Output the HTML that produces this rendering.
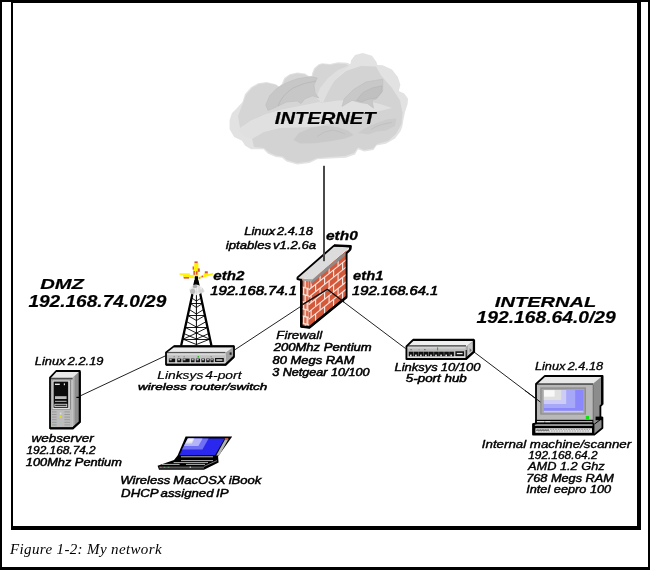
<!DOCTYPE html>
<html><head><meta charset="utf-8"><title>Figure 1-2: My network</title>
<style>
html,body{margin:0;padding:0;background:#fff;}
body{width:650px;height:570px;overflow:hidden;position:relative;font-family:"Liberation Serif",serif;}
#outer{position:absolute;left:0;top:0;width:646px;height:565px;border:2px solid #000;border-bottom-width:3px;}
#fig{position:absolute;left:0;top:0;width:650px;height:570px;}
text{font-family:"Liberation Sans", sans-serif;font-style:italic;fill:#000;stroke:#000;}
</style></head>
<body>
<div id="outer"></div>
<svg id="fig" width="650" height="570" viewBox="0 0 650 570">
<defs>
<filter id="bl" color-interpolation-filters="sRGB" x="-5%" y="-5%" width="110%" height="110%"><feGaussianBlur stdDeviation="0.45"/></filter>
<filter id="bl2" color-interpolation-filters="sRGB" x="-5%" y="-5%" width="110%" height="110%"><feGaussianBlur stdDeviation="0.7"/></filter>
<filter id="noop" color-interpolation-filters="sRGB" x="-5%" y="-50%" width="110%" height="200%"><feGaussianBlur stdDeviation="0.01"/></filter>
</defs>
<!-- inner frame -->
<g id="frame" fill="#000">
<rect x="11" y="1" width="630" height="2"/>
<rect x="11" y="1" width="2" height="529"/>
<rect x="637" y="1" width="4" height="529"/>
<rect x="11" y="526" width="630" height="4"/>
</g>
<!-- cloud -->
<g id="cloud" filter="url(#bl)">
<path fill="#e2e2e2" d="M232,113 L237,108 L242.5,102 L245,94 L251,87.3 L258,83.2 L266.5,82 L275.8,84.2 L279,86.5 L282,83.5 L284.2,78 L289.6,74.2 L297.3,72.4 L305,73.5 L309.6,76.5 L311.5,78 L312,73.5 L314.2,68 L318.8,64.2 L322,63.2 L330,64 L338,62.2 L347.3,62.7 L350.4,64.2 L351,60.4 L355,55 L362.7,53 L372,55.8 L376.5,62 L377.3,65 L382.7,65.3 L392,69.6 L398,77.3 L400.4,85 L398.8,91 L404.2,93.5 L408,98.8 L407.6,104 L405,112 L403.4,120 L402.2,127 L400.4,131.5 L395,138.5 L385.8,143.8 L376.5,145.4 L373.5,150 L364.2,151.5 L358,149.2 L355,154.6 L345.8,157.7 L330.4,158.5 L317.3,159.2 L309.6,163 L297.3,164.6 L286.5,161.5 L282,157.7 L275.8,157 L268,153.8 L263.5,149.2 L251,149.2 L245,145.4 L242,140.8 L234.2,137 L229.6,129.2 L229.6,120 Z"/>
<!-- upper-left blob -->
<path fill="#d5d5d5" d="M238,116 L243,103 L246,95 L252,88 L259,84 L267,83 L276,85 L280,88 L283,84 L285,79 L290,75 L297,73.5 L305,74.5 L310,78 L312,80 L313,74 L315,69 L319,65 L323,64 L330,65 L338,63.5 L346,64 L349,66 L338,72 L330,80 L324,92 L320,102 L300,106 L280,110 L262,116 L248,123 L240,128 Z"/>
<!-- dome -->
<path fill="#d3d3d3" d="M320,104 L326,92 L334,81 L346,71 L361,66 L376,66.5 L381,75.5 L392,88 L400,100.5 L402.5,113 L401.5,124 L396,134 L388,141 L377,144 L373,148.5 L364,150 L358,147.5 L354,153 L345,156 L330,157 L317,158 L309,161.5 L297,163 L287,160 L283,156.5 L276,155.5 L269,152.5 L264,148 L254,147 L252,138 L262,129 L278,122 L296,117 L316,113 L336,109 L352,104 L340,101 Z"/>
<!-- light band across middle -->
<path fill="#e0e0e0" d="M238,130 L250,121 L266,114 L284,109.5 L302,106 L320,103 L338,100.5 L354,100 L368,101 L380,104 L392,108 L380,111 L362,113.5 L345,118 L330,123.5 L316,126.5 L298,127.5 L280,128 L264,132 L252,139 L244,136 Z"/>
<!-- light swoosh top -->
<path fill="#dfdfdf" d="M316,98 L320,88 L328,78 L338,70 L350,65 L340,74 L333,83 L327,94 L323,103 Z"/>
<!-- wing 1 -->
<path fill="#c7c7c7" stroke="#bdbdbd" stroke-width="0.6" d="M265.8,105 L269.6,95.8 L277.3,88 L286.5,82.7 L297.3,78.8 L311,76.5 L317.3,78 L314,85 L315,92.7 L318.8,98 L312.7,95.8 L305,98.8 L301,103.5 L297.3,101 L286.5,102 L277.3,106.5 L268,110.5 Z"/>
<path fill="none" stroke="#b6b6b6" stroke-width="0.8" d="M278,106 Q282,95 293,88 Q304,82.5 316,81"/>
<!-- wing 2 -->
<path fill="#c8c8c8" stroke="#bebebe" stroke-width="0.6" d="M342,106.5 L344.2,98.8 L353.5,89.6 L365.8,82 L382.7,79.2 L382.7,91.2 L376.5,98.8 L372,100.4 L373.5,108 L367.3,103.5 L361,102.7 L352,100.4 L346,104 Z"/>
<path fill="#c0c0c0" stroke="#b4b4b4" stroke-width="0.6" d="M356.5,100.4 L362.7,92.7 L372,88 L382,85.8 L381,92.7 L376.5,98 L369,99 L362,101.6 Z"/>
<!-- wing 3 -->
<path fill="#c9c9c9" d="M293.5,140 L298.8,133 L311,127.7 L325,125.8 L338,127.2 L348,130.5 L353.5,135 L346,138.2 L332,141 L315,143.2 L300,143.4 Z"/>
<path fill="none" stroke="#bcbcbc" stroke-width="0.7" d="M317,136.5 Q324,131 333,130 Q340,131.5 345,134"/>
<!-- wing 4 -->
<path fill="#cbcbcb" d="M358,133 L365.8,127.7 L376.5,123 L387.3,119.2 L396.5,118.5 L395,126 L385.8,130.8 L376.5,131.5 L368.8,134.6 Z"/>
<path fill="none" stroke="#bcbcbc" stroke-width="0.7" d="M371,129.5 Q379,124 392,122.5"/>
</g>
<!-- connection lines -->
<g id="lines" stroke="#222" stroke-width="1" fill="none">
<rect x="323" y="165.8" width="2" height="95.4" fill="#4a4a4a" stroke="none"/>
<polyline points="80,396 165.5,355.8"/>
<polyline points="234.5,350 326.8,289.3 405.5,348.5"/>
<polyline points="473,351.2 540,401.8"/>
</g>
<!-- firewall -->
<g id="firewall" filter="url(#bl)">
<clipPath id="fwclip"><polygon points="300.6,278 312,279 346.8,250 346.8,296.8 309.3,327.2 300.6,326.4"/></clipPath>
<g clip-path="url(#fwclip)">
<polygon points="308.6,280 346.8,250 346.8,297 308.6,328" fill="#d4583a"/>
<polygon points="300.6,278 308.6,279.5 308.6,328 300.6,327" fill="#de6c4e"/>
<g stroke="#f6e4de" stroke-width="1.15" fill="none">
<path d="M308.6,290.0 L346.4,259.6 M308.6,297.3 L346.4,266.9 M308.6,304.7 L346.4,274.3 M308.6,312.1 L346.4,281.7 M308.6,319.4 L346.4,289.0"/>
<path d="M311.1,280.6 v7.4 M320.1,273.4 v7.4 M329.1,266.1 v7.4 M338.1,258.9 v7.4 M315.6,284.3 v7.4 M324.6,277.1 v7.4 M333.6,269.9 v7.4 M342.6,262.6 v7.4 M311.1,295.3 v7.4 M320.1,288.1 v7.4 M329.1,280.8 v7.4 M338.1,273.6 v7.4 M315.6,299.1 v7.4 M324.6,291.8 v7.4 M333.6,284.6 v7.4 M342.6,277.4 v7.4 M311.1,310.1 v7.4 M320.1,302.8 v7.4 M329.1,295.6 v7.4 M338.1,288.3 v7.4 M315.6,313.8 v7.4 M324.6,306.6 v7.4 M333.6,299.3 v7.4 M342.6,292.1 v7.4"/>
<path d="M301.5,286.8 L308.6,288.6 M301.5,294.0 L308.6,295.8 M301.5,301.3 L308.6,303.1 M301.5,308.5 L308.6,310.3 M301.5,315.7 L308.6,317.5 M301.5,322.9 L308.6,324.7 M305.2,280.0 v7.4 M303.6,287.2 v7.4 M307.2,287.7 v7.4 M305.2,294.4 v7.4 M303.6,301.7 v7.4 M307.2,302.2 v7.4 M305.2,308.9 v7.4 M303.6,316.1 v7.4 M307.2,316.6 v7.4 M305.2,323.3 v7.4" stroke-width="1.3"/>
</g>
</g>
<polygon points="311,280.6 349.5,248.6 349.5,252 311,284" fill="#8c8c8c"/>
<polygon points="299,278.6 312.4,279.6 311.6,281.6 301,280.4" fill="#a4a4a4"/>
<polygon points="297.6,277.8 334,245.6 350.5,246.4 312.5,279.6" fill="#dcdcdc"/>
<g stroke="#000" fill="none" stroke-linejoin="round">
<path d="M301.2,280 L297.4,279 L297.6,277.4 L334,245.6 L350.5,246.4 L350,250 L346.6,253 L346.6,297 L309.3,327.4 L301.2,326.5 Z" stroke-width="1.9"/>
<path d="M301.3,280.5 L301.3,326.5 L309.3,327.5 L346.6,297" stroke-width="2.5"/>
<path d="M334,245.4 L350.6,246.2 L350.2,249.6" stroke-width="2.4"/>
</g>
</g>
<!-- lines over firewall -->
<g stroke="#111" fill="none">
<rect x="323" y="240" width="2" height="21.2" fill="#4a4a4a" stroke="none"/>
<polyline points="302.5,304.6 327.3,289.3 344,302" stroke-width="1.4"/>
</g>
<!-- tower -->
<g id="tower" filter="url(#bl)">
<ellipse cx="196.5" cy="290" rx="7" ry="4" fill="#bdbdbd" opacity="0.75"/>
<g stroke="#000" fill="none" stroke-linecap="round">
<path d="M195.3,281 L181.3,345 M197.5,281 L211.3,345" stroke-width="2.3"/>
<path d="M196.4,278 L196.4,345" stroke-width="1"/>
<path d="M196.4,277 L196.4,284" stroke-width="3.4"/>
<g stroke-width="0.9">
<path d="M191.6,298 L196.4,301 L201.2,298 M190.4,303.5 L196.4,307.5 L202.4,303.5 M189.2,309.5 L196.4,314 L203.6,309.5 M187.8,315.5 L196.4,320.5 L205,315.5 M186.4,321.5 L196.4,327 L206.4,321.5 M185.2,327.5 L196.4,333 L207.6,327.5 M183.8,333.5 L196.4,339 L209,333.5 M182.6,339 L196.4,344.5 L210.2,339"/>
<path d="M190.4,303.5 H202.4 M187.8,315.5 H205 M185.2,327.5 H207.6 M182.6,339.5 H210.2 M193,292 H200"/>
<path d="M182.6,339.5 L196.4,333 L210.2,339.5"/>
</g>
</g>
<!-- spark -->
<g fill="#fff200">
<rect x="194.2" y="262.8" width="4.2" height="13.4"/>
<rect x="193" y="267" width="2" height="4"/>
<rect x="179.6" y="273.3" width="10.2" height="1.6"/>
<rect x="183" y="274.9" width="10.8" height="3.2"/>
<polygon points="198.6,277 205,275 213,272.9 213,274.4 206,276.8 198.6,279"/>
<rect x="203.6" y="273.4" width="4.4" height="2"/>
</g>
<g fill="#d8503c">
<rect x="194.5" y="261.4" width="3.2" height="1.7"/>
<rect x="192.6" y="266.4" width="1.3" height="3.2"/>
<rect x="197.8" y="268.4" width="2" height="3.4"/>
<rect x="193.4" y="271" width="1.5" height="3.8"/>
<rect x="196" y="271.2" width="1.5" height="3.4"/>
<rect x="183.8" y="277.1" width="5.2" height="1.5"/>
<rect x="204.8" y="271.3" width="3" height="2.1"/>
<rect x="201.6" y="275.6" width="1.5" height="1.6"/>
<rect x="199.2" y="277.4" width="1" height="1.2"/>
</g>
</g>
<!-- router (Linksys 4-port) -->
<g id="router" filter="url(#bl)">
<polygon points="166,352.4 173.8,346.4 234,346.4 225.6,352.4" fill="#ececec"/>
<polygon points="225.6,352.4 234,346.4 234,356.6 225.6,364.6" fill="#a2a2a2"/>
<rect x="166" y="352.4" width="59.6" height="12.2" fill="#c2c2c2"/>
<rect x="166.8" y="351.9" width="58.6" height="1.3" fill="#555"/>
<rect x="167" y="353.4" width="58" height="1.8" fill="#d8d8d8"/>
<rect x="167.4" y="362.4" width="57.6" height="1.2" fill="#e6e6e6"/>
<g fill="#101010"><rect x="168.9" y="358.6" width="6.2" height="3.6"/><rect x="177.2" y="358.6" width="4.1" height="3.6"/><rect x="182.7" y="358.6" width="6.9" height="3.6"/><rect x="191" y="358.6" width="3.5" height="3.6"/><rect x="195.9" y="358.6" width="4.1" height="3.6"/><rect x="201.4" y="358.6" width="3.5" height="3.6"/><rect x="206.2" y="358.6" width="3.5" height="3.6"/><rect x="210.6" y="358.6" width="3.0" height="3.6"/><rect x="215" y="358" width="8.8" height="4"/></g>
<g fill="#dedede"><rect x="169.5" y="359.2" width="2.2" height="1.1"/><rect x="177.8" y="359.2" width="2.2" height="1.1"/><rect x="183.3" y="359.2" width="2.2" height="1.1"/><rect x="191.6" y="359.2" width="2.1" height="1.1"/><rect x="196.5" y="359.2" width="2.2" height="1.1"/><rect x="202.0" y="359.2" width="2.1" height="1.1"/><rect x="206.8" y="359.2" width="2.1" height="1.1"/><rect x="211.2" y="359.2" width="1.6" height="1.1"/><rect x="216.2" y="359.3" width="6.2" height="1.4"/></g>
<rect x="197.6" y="356" width="1.4" height="1.6" fill="#30b030"/>
<g fill="#888"><rect x="173.5" y="356.2" width="1.4" height="1"/><rect x="178" y="356.2" width="1.4" height="1"/><rect x="183.5" y="356.2" width="1.4" height="1"/><rect x="210.5" y="356.2" width="1.4" height="1"/></g>
<rect x="229.6" y="352.4" width="2" height="2.4" fill="#222"/>
<g stroke="#000" fill="none" stroke-linejoin="round">
<path d="M166,352.4 L173.8,346.4 L234,346.4 L234,356.6 L225.6,364.6 L166,364.6 Z" stroke-width="1.8"/>
<path d="M166,364.7 H225.6 L234,356.8 M173.8,346.3 H234.2" stroke-width="2.1"/>
</g>
</g>
<!-- hub (Linksys 10/100) -->
<g id="hub" filter="url(#bl)">
<polygon points="406.4,346.4 413,340 474,340 466,346.4" fill="#f0f0f0"/>
<polygon points="466,346.4 474,340 474,351.6 466,359" fill="#a6a6a6"/>
<rect x="406.4" y="346.4" width="59.6" height="12.4" fill="#bcbcbc"/>
<rect x="407" y="345.2" width="59" height="1.3" fill="#444"/>
<rect x="407.4" y="347" width="58" height="1.5" fill="#d4d4d4"/>
<rect x="407.4" y="356.4" width="58" height="1.3" fill="#ececec"/>
<g fill="#101010"><rect x="408.8" y="351.7" width="4.7" height="4.6"/><rect x="413.9" y="351.7" width="4.7" height="4.6"/><rect x="418.9" y="351.7" width="4.7" height="4.6"/><rect x="423.9" y="351.7" width="4.7" height="4.6"/><rect x="429.0" y="351.7" width="4.7" height="4.6"/><rect x="434.1" y="351.7" width="4.7" height="4.6"/><rect x="439.1" y="351.7" width="4.7" height="4.6"/><rect x="444.2" y="351.7" width="4.7" height="4.6"/><rect x="449.2" y="351.7" width="4.7" height="4.6"/><rect x="455.4" y="351.3" width="8.6" height="4.8"/></g>
<g fill="#e8e8e8"><rect x="410.0" y="354.6" width="1.6" height="1.8"/><rect x="415.1" y="354.6" width="1.6" height="1.8"/><rect x="420.1" y="354.6" width="1.6" height="1.8"/><rect x="425.1" y="354.6" width="1.6" height="1.8"/><rect x="430.2" y="354.6" width="1.6" height="1.8"/><rect x="435.2" y="354.6" width="1.6" height="1.8"/><rect x="440.3" y="354.6" width="1.6" height="1.8"/><rect x="445.4" y="354.6" width="1.6" height="1.8"/><rect x="450.4" y="354.6" width="1.6" height="1.8"/><rect x="456.8" y="352.9" width="5.8" height="1.3"/></g>
<rect x="437" y="347.4" width="1.1" height="3" fill="#38a838"/>
<g fill="#777"><rect x="410.4" y="349" width="1.4" height="1.2"/><rect x="424" y="349" width="1.6" height="1.2"/><rect x="418.6" y="349" width="1" height="1.2" fill="#999"/></g>
<polygon points="468,345.4 472.4,342.4 472.4,351.4 468,355.6" fill="#c8c8c8"/>
<polygon points="469.6,348 471.8,350.2 469.6,352.6" fill="#707070"/>
<g stroke="#000" fill="none" stroke-linejoin="round">
<path d="M406.4,346.4 L413,340 L474,340 L474,351.6 L466,359 L406.4,359 Z" stroke-width="1.8"/>
<path d="M406.4,359 H466 L474,351.8 V340 M413,339.9 H474" stroke-width="2.2"/>
<path d="M466.2,350 V359" stroke-width="1"/>
</g>
</g>
<!-- tower haze -->
<g filter="url(#bl2)"><ellipse cx="196" cy="289.8" rx="6.4" ry="5.4" fill="#f0f0f0" opacity="0.92"/><ellipse cx="192.6" cy="291.4" rx="2.6" ry="2.6" fill="#b0b0b0" opacity="0.8"/><ellipse cx="201.4" cy="291" rx="3" ry="1.8" fill="#d4d4d4" opacity="0.8"/><ellipse cx="195" cy="286.4" rx="2.2" ry="1.6" fill="#909090" opacity="0.7"/></g>
<!-- webserver tower PC -->
<g id="server" filter="url(#bl)">
<polygon points="50,377.6 56.2,371 79.8,371 72.8,377.6" fill="#e8e8e8"/>
<polygon points="72.8,377.6 79.8,371 79.8,421.8 72.8,428" fill="#8e8e8e"/>
<polygon points="72.8,377.6 74.6,376 74.6,426.4 72.8,428" fill="#b0b0b0"/>
<rect x="50" y="377.6" width="22.8" height="50.4" fill="#bcbcbc"/>
<rect x="50.6" y="377.8" width="22" height="1.6" fill="#4a4a4a"/>
<rect x="51.6" y="379.6" width="19.4" height="30" fill="#8a8a8a"/>
<rect x="52.4" y="380.4" width="17.4" height="28.6" fill="#e0e0e0"/>
<rect x="53.6" y="381.6" width="14.6" height="26.2" fill="#0c0c0c"/>
<rect x="55" y="383.6" width="4.8" height="1.4" fill="#e8e8e8"/>
<rect x="63.8" y="383.4" width="1.2" height="1.8" fill="#e8e8e8"/>
<rect x="55" y="396.2" width="11.6" height="2.8" fill="#bcbcbc"/>
<rect x="55" y="400.8" width="11.6" height="1.2" fill="#9a9a9a"/>
<rect x="54.4" y="403.8" width="12.8" height="3.2" fill="#cfcfcf"/>
<rect x="55.2" y="404.7" width="11.2" height="1.4" fill="#333"/>
<g fill="#9a9a9a">
<rect x="52" y="411.4" width="4.6" height="1"/><rect x="52" y="414" width="4.6" height="1"/><rect x="52" y="416.6" width="4.6" height="1"/><rect x="52" y="419.2" width="4.6" height="1"/><rect x="52" y="421.8" width="4.6" height="1"/><rect x="52" y="424.4" width="4.6" height="1"/>
<rect x="64.4" y="411.4" width="5.6" height="1"/><rect x="64.4" y="414" width="5.6" height="1"/><rect x="64.4" y="416.6" width="5.6" height="1"/><rect x="64.4" y="419.2" width="5.6" height="1"/><rect x="64.4" y="421.8" width="5.6" height="1"/><rect x="64.4" y="424.4" width="5.6" height="1"/>
</g>
<rect x="59.8" y="412.6" width="1.6" height="1.8" fill="#e0e0e0"/>
<rect x="59.6" y="415.8" width="1.8" height="1.8" fill="#e6e020"/>
<g stroke="#000" fill="none" stroke-linejoin="round">
<path d="M50,377.6 L56.2,371 L79.8,371 L79.8,421.8 L72.8,428.2 L50,428.2 Z" stroke-width="1.8"/>
<path d="M50,428.4 H72.8 L79.8,422 V371.4 M56.2,370.9 H79.8" stroke-width="2"/>
<path d="M76.4,397.4 H80.5" stroke-width="1.2"/>
</g>
</g>
<!-- laptop -->
<g id="laptop" filter="url(#bl)">
<polygon points="185.6,436.6 232.2,436.6 218,456.4 177.6,455.6" fill="#000"/>
<polygon points="157.6,465.8 174,460 178,455 218,456 218.6,462.4 204,469.8 159,469.8" fill="#000"/>
<polygon points="187.8,438.6 224.6,438.6 215.2,455 179.4,455" fill="#2a28ee"/>
<polygon points="187.8,438.6 208.6,438.6 202.4,449.6 182,449.6" fill="#7070f4"/>
<polygon points="187.8,438.6 202.6,438.6 198.4,446 184,446" fill="#b4b4f8"/>
<polygon points="187.8,438.6 194.4,438.6 191.8,443.4 185.4,443.4" fill="#e4e4f0"/>
<polygon points="188.6,438.8 193,438.8 192,441.4 187.4,441.4" fill="#f6f6f6"/>
<polygon points="225.4,438.8 228.6,438.8 219.2,455.4 216.2,455.4" fill="#b4b4b4"/>
<rect x="224.8" y="438.2" width="3.4" height="1.8" fill="#e05a3a"/>
<g stroke="#b4b4b4" stroke-width="1" fill="none">
<path d="M181,456.8 H213 M181,460.6 H213 M173.6,462.6 H208 M162,464.4 H179.6 M186,464.4 H205"/>
</g>
<polygon points="159,466.4 204,466.4 204,468.6 159.4,468.6" fill="#555"/>
<rect x="163.6" y="466.8" width="1.8" height="1.2" fill="#20c020"/>
<rect x="167.6" y="466.8" width="1.8" height="1.2" fill="#20c020"/>
<rect x="160.2" y="466.8" width="1.2" height="1.2" fill="#e05a3a"/>
<rect x="189.6" y="466.6" width="1.4" height="1.2" fill="#ccc"/>
<path d="M204,466.4 L217,460.6" stroke="#777" stroke-width="1" fill="none"/>
</g>
<!-- internal workstation -->
<g id="monitor" filter="url(#bl)">
<polygon points="536,384 544.6,376.2 602,376.2 593,384" fill="#e8e8e8"/>
<polygon points="592.6,384 602,376.2 602,404.6 600,406 600,417.6 602.4,417.6 602.4,428 594.4,434.4 592.6,434" fill="#8c8c8c"/>
<rect x="536" y="384" width="57" height="37" fill="#b8b8b8"/>
<rect x="540.2" y="387.4" width="45.8" height="27.2" fill="#8e8e8e"/>
<rect x="541.6" y="388.8" width="43" height="24.6" fill="#a8a8a8"/>
<rect x="543.8" y="390" width="39.6" height="22.2" fill="#8a88fa"/>
<rect x="543.8" y="390" width="31.4" height="18" fill="#a8a8f8"/>
<rect x="543.8" y="390" width="22.4" height="14" fill="#ccccf6"/>
<rect x="543.8" y="390" width="17.4" height="10" fill="#e0e0e0"/>
<rect x="544" y="390.2" width="10.6" height="6.4" fill="#f8f8f8"/>
<rect x="543.8" y="410.8" width="39.6" height="1.6" fill="#dcdcdc" opacity="0.8"/>
<rect x="585.8" y="416" width="3.2" height="3.1" fill="#10e010"/>
<rect x="535.4" y="419.8" width="58" height="4.4" fill="#000"/>
<rect x="536.4" y="421" width="56" height="1.3" fill="#b0b0b0"/>
<rect x="536.6" y="421" width="7.4" height="1.2" fill="#e0e0e0"/><rect x="545.4" y="421" width="4.8" height="1.2" fill="#e0e0e0"/>
<polygon points="533,423.2 594.4,423.2 594.4,434.4 533,434.4" fill="#000"/>
<rect x="534.8" y="424.2" width="57.8" height="1.7" fill="#a8a8a8"/>
<rect x="535.4" y="428.2" width="56.6" height="4.6" fill="#e4e4e4"/>
<g stroke="#8a8a8a" stroke-width="0.8"><path d="M537,429.4 H590 M538,431 H590" stroke-dasharray="1.6 1"/><path d="M536,430.2 H549" stroke="#555" stroke-width="1"/></g>
<g stroke="#000" fill="none" stroke-linejoin="round">
<path d="M536,384 L544.6,376.2 L602,376.2 L602,404.6 L600.4,406 L600.4,417.6 L602.4,417.6 L602.4,428 L594.4,434.6 L533,434.6 L533,424.2 L536,423.4 Z" stroke-width="1.8"/>
<path d="M536,384 H593" stroke-width="1.2"/>
<path d="M593.2,385 V420" stroke-width="0.8" stroke="#666"/>
<path d="M594.6,424 L600.4,419.6" stroke-width="1"/>
<path d="M544.6,376 H602.4 V404.6" stroke-width="2.2"/>
<path d="M595.6,418.4 H602.4" stroke-width="3.6"/>
</g>
</g>
<!-- line ends over devices -->
<g stroke="#111" stroke-width="1" fill="none">
<line x1="525" y1="390.5" x2="540.4" y2="402"/>
</g>

<g id="labels" filter="url(#bl)">
<text style="font-weight:bold;stroke-width:0.2px;" x="274.8" y="124.1" font-size="16.3" textLength="100.8" lengthAdjust="spacingAndGlyphs">INTERNET</text>
<text style="font-weight:bold;stroke-width:0.2px;" x="40.2" y="289.0" font-size="15.3" textLength="43.8" lengthAdjust="spacingAndGlyphs">DMZ</text>
<text style="font-weight:bold;stroke-width:0.2px;" x="28.4" y="307.2" font-size="16.6" textLength="137.9" lengthAdjust="spacingAndGlyphs">192.168.74.0/29</text>
<text style="font-weight:bold;stroke-width:0.2px;" x="494.8" y="306.6" font-size="15.3" textLength="101.6" lengthAdjust="spacingAndGlyphs">INTERNAL</text>
<text style="font-weight:bold;stroke-width:0.2px;" x="476.5" y="323.1" font-size="16.6" textLength="139.3" lengthAdjust="spacingAndGlyphs">192.168.64.0/29</text>
<text style="font-weight:bold;stroke-width:0.3px;" x="326.0" y="240.4" font-size="12.3" textLength="31.8" lengthAdjust="spacingAndGlyphs">eth0</text>
<text style="font-weight:bold;stroke-width:0.3px;" x="213.3" y="280.3" font-size="12.3" textLength="31.1" lengthAdjust="spacingAndGlyphs">eth2</text>
<text style="font-weight:bold;stroke-width:0.3px;" x="353.1" y="279.5" font-size="12.5" textLength="30.3" lengthAdjust="spacingAndGlyphs">eth1</text>
<text style="font-weight:normal;stroke-width:0.65px;" x="210.2" y="295.1" font-size="13.0" textLength="86.8" lengthAdjust="spacingAndGlyphs">192.168.74.1</text>
<text style="font-weight:normal;stroke-width:0.65px;" x="352.0" y="294.6" font-size="13.0" textLength="86.2" lengthAdjust="spacingAndGlyphs">192.168.64.1</text>
<text style="font-weight:normal;stroke-width:0.45px;word-spacing:-1.5px;" x="244.3" y="234.6" font-size="11.4" textLength="68.6" lengthAdjust="spacingAndGlyphs">Linux 2.4.18</text>
<text style="font-weight:normal;stroke-width:0.45px;word-spacing:-1.5px;" x="225.8" y="248.9" font-size="11.4" textLength="90.4" lengthAdjust="spacingAndGlyphs">iptables v1.2.6a</text>
<text style="font-weight:normal;stroke-width:0.4px;" x="276.3" y="339.0" font-size="11.6" textLength="45.9" lengthAdjust="spacingAndGlyphs">Firewall</text>
<text style="font-weight:normal;stroke-width:0.5px;" x="273.7" y="351.0" font-size="10.3" textLength="98.0" lengthAdjust="spacingAndGlyphs">200Mhz Pentium</text>
<text style="font-weight:normal;stroke-width:0.5px;" x="272.6" y="363.8" font-size="10.3" textLength="81.9" lengthAdjust="spacingAndGlyphs">80 Megs RAM</text>
<text style="font-weight:normal;stroke-width:0.5px;" x="272.2" y="375.8" font-size="10.3" textLength="97.3" lengthAdjust="spacingAndGlyphs">3 Netgear 10/100</text>
<text style="font-weight:normal;stroke-width:0.2px;word-spacing:-1.5px;" x="157.2" y="378.9" font-size="11.6" textLength="84.3" lengthAdjust="spacingAndGlyphs">Linksys 4-port</text>
<text style="font-weight:normal;stroke-width:0.5px;" x="138.0" y="390.2" font-size="9.8" textLength="129.3" lengthAdjust="spacingAndGlyphs">wireless router/switch</text>
<text style="font-weight:normal;stroke-width:0.4px;word-spacing:-0.5px;" x="394.4" y="371.0" font-size="10.3" textLength="86.2" lengthAdjust="spacingAndGlyphs">Linksys 10/100</text>
<text style="font-weight:normal;stroke-width:0.5px;" x="405.8" y="381.5" font-size="10.5" textLength="61.0" lengthAdjust="spacingAndGlyphs">5-port hub</text>
<text style="font-weight:normal;stroke-width:0.35px;word-spacing:-1px;" x="34.8" y="365.1" font-size="10.3" textLength="68.6" lengthAdjust="spacingAndGlyphs">Linux 2.2.19</text>
<text style="font-weight:normal;stroke-width:0.4px;" x="31.4" y="441.5" font-size="10.6" textLength="62.4" lengthAdjust="spacingAndGlyphs">webserver</text>
<text style="font-weight:normal;stroke-width:0.4px;" x="26.5" y="454.1" font-size="10.2" textLength="69.2" lengthAdjust="spacingAndGlyphs">192.168.74.2</text>
<text style="font-weight:normal;stroke-width:0.45px;" x="25.8" y="466.2" font-size="10.0" textLength="96.0" lengthAdjust="spacingAndGlyphs">100Mhz Pentium</text>
<text style="font-weight:normal;stroke-width:0.45px;word-spacing:-0.5px;" x="120.3" y="483.8" font-size="10.8" textLength="141.1" lengthAdjust="spacingAndGlyphs">Wireless MacOSX iBook</text>
<text style="font-weight:normal;stroke-width:0.45px;word-spacing:-1px;" x="121.1" y="496.6" font-size="10.8" textLength="107.5" lengthAdjust="spacingAndGlyphs">DHCP assigned IP</text>
<text style="font-weight:normal;stroke-width:0.3px;word-spacing:-1px;" x="534.9" y="370.0" font-size="10.2" textLength="68.3" lengthAdjust="spacingAndGlyphs">Linux 2.4.18</text>
<text style="font-weight:normal;stroke-width:0.35px;" x="481.8" y="447.9" font-size="10.1" textLength="149.4" lengthAdjust="spacingAndGlyphs">Internal machine/scanner</text>
<text style="font-weight:normal;stroke-width:0.35px;" x="528.2" y="459.0" font-size="10.0" textLength="69.4" lengthAdjust="spacingAndGlyphs">192.168.64.2</text>
<text style="font-weight:normal;stroke-width:0.35px;" x="528.0" y="470.4" font-size="10.3" textLength="76.7" lengthAdjust="spacingAndGlyphs">AMD 1.2 Ghz</text>
<text style="font-weight:normal;stroke-width:0.4px;" x="526.2" y="482.4" font-size="10.0" textLength="87.6" lengthAdjust="spacingAndGlyphs">768 Megs RAM</text>
<text style="font-weight:normal;stroke-width:0.4px;" x="526.2" y="493.3" font-size="10.0" textLength="85.0" lengthAdjust="spacingAndGlyphs">Intel eepro 100</text>
</g>
<text id="cap" x="10" y="553.6" textLength="151.6" lengthAdjust="spacing" filter="url(#noop)" style="font-family:'Liberation Serif',serif;font-style:italic;font-size:15px;stroke:none;">Figure 1-2: My network</text>
</svg>
</body></html>
